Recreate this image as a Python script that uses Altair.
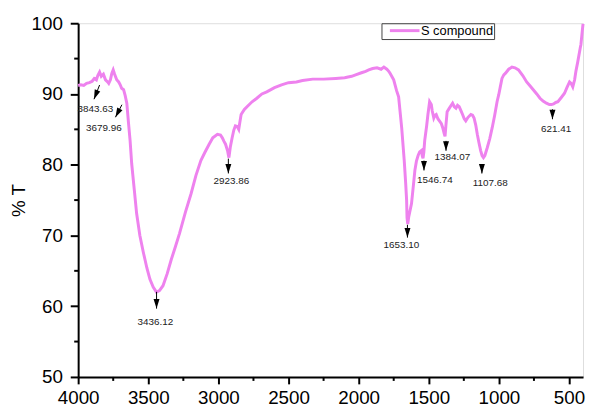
import altair as alt
import pandas as pd

# ---- spectrum ----
wavenumber = [4000, 3980, 3960, 3940, 3920, 3900, 3885, 3870, 3860, 3847, 3835, 3820, 3805, 3790, 3782,
              3770, 3760, 3750, 3740, 3725, 3711, 3700, 3690, 3676, 3665, 3653, 3641, 3630, 3618, 3600,
              3583, 3560, 3535, 3510, 3488, 3465, 3442, 3420, 3395, 3365, 3336, 3305, 3277, 3235, 3195,
              3160, 3125, 3095, 3066, 3040, 3007, 2985, 2972, 2960, 2949, 2935, 2925, 2915, 2902, 2890,
              2879, 2866, 2855, 2847, 2838, 2815, 2796, 2760, 2726, 2690, 2655, 2600, 2550, 2500, 2444,
              2400, 2327, 2250, 2163, 2100, 2050, 2022, 1980, 1950, 1928, 1900, 1869, 1840, 1820, 1799,
              1785, 1775, 1750, 1730, 1715, 1693, 1675, 1665, 1658, 1655, 1650, 1643, 1623, 1610, 1599,
              1588, 1576, 1565, 1552, 1546, 1541, 1535, 1529, 1515, 1506, 1494, 1482, 1475, 1464, 1455,
              1447, 1435, 1424, 1410, 1400, 1390, 1384, 1378, 1369, 1353, 1340, 1330, 1318, 1306, 1295,
              1283, 1270, 1259, 1247, 1236, 1220, 1200, 1188, 1177, 1165, 1154, 1142, 1130, 1120, 1110,
              1100, 1083, 1065, 1048, 1030, 1013, 1001, 990, 978, 965, 954, 930, 907, 885, 860,
              830, 802, 780, 755, 730, 707, 685, 661, 640, 626, 610, 595, 579, 555, 532,
              515, 496, 485, 473, 460, 450, 438, 420, 415, 405, 400]
transmittance = [91.2, 91.3, 91.2, 91.5, 91.6, 91.8, 92.2, 92.0, 92.6, 93.1, 92.5, 92.8, 92.0, 91.7, 91.5,
                 92.0, 92.9, 93.4, 92.8, 92.0, 91.7, 91.3, 90.8, 90.6, 89.8, 88.7, 85.9, 83.5, 80.1, 76.5,
                 73.1, 70.0, 67.6, 65.4, 63.8, 62.7, 62.0, 62.2, 62.9, 64.6, 66.6, 68.5, 70.3, 73.3, 75.9,
                 78.5, 80.6, 81.8, 82.9, 83.8, 84.3, 84.2, 83.8, 83.3, 82.9, 82.0, 81.0, 82.5, 83.8, 84.9,
                 85.5, 85.4, 85.0, 86.0, 87.1, 87.8, 88.2, 88.9, 89.4, 90.0, 90.3, 90.9, 91.3, 91.6, 91.7,
                 91.9, 92.1, 92.1, 92.2, 92.3, 92.5, 92.7, 93.0, 93.2, 93.4, 93.6, 93.7, 93.5, 93.8, 93.5,
                 93.2, 92.9, 92.0, 90.5, 89.6, 85.2, 80.6, 77.5, 75.0, 72.5, 71.6, 72.6, 74.5, 77.0, 79.2,
                 80.5, 81.3, 81.8, 82.0, 81.2, 80.9, 81.8, 83.4, 85.5, 87.1, 88.9, 88.5, 87.6, 86.6, 87.0,
                 87.1, 86.5, 86.2, 85.8, 85.2, 84.4, 84.0, 85.5, 87.5, 88.0, 88.4, 88.7, 88.2, 88.0, 88.4,
                 88.2, 87.6, 87.1, 86.5, 86.2, 86.7, 87.1, 87.0, 86.6, 85.6, 84.3, 83.1, 82.0, 81.3, 81.0,
                 81.3, 82.4, 83.7, 85.2, 87.0, 88.9, 89.9, 91.0, 92.2, 92.7, 92.9, 93.5, 93.8, 93.7, 93.4,
                 92.6, 91.7, 91.2, 90.6, 90.0, 89.4, 89.0, 88.7, 88.5, 88.5, 88.6, 88.8, 88.9, 89.5, 90.1,
                 90.9, 91.7, 91.5, 91.0, 92.0, 93.3, 94.5, 96.5, 97.0, 99.0, 99.9]
series_name = "S compound"

# ---- peak annotations ----
peak_labels = ["3843.63", "3679.96", "3436.12", "2923.86", "1653.10", "1546.74", "1384.07", "1107.68", "621.41"]
arrow_from_x = [3847, 3688, 3441, 2929, 1652, 1534, 1377, 1121, 618]
arrow_from_y = [91.27, 88.48, 62.03, 80.86, 71.51, 80.58, 83.37, 79.88, 87.83]
arrow_to_x = [3887, 3734, 3441, 2929, 1652, 1534, 1377, 1121, 618]
arrow_to_y = [89.26, 86.71, 59.66, 78.77, 69.70, 79.19, 81.97, 78.76, 86.43]
arrow_angle = [21.6, 27.5, 0, 0, 0, 0, 0, 0, 0]
label_x = [3877, 3817, 3450, 2908, 1696, 1457, 1332, 1062, 592]
label_y = [87.93, 85.22, 57.71, 77.65, 68.59, 77.79, 81.14, 77.37, 85.04]

# ---- ticks ----
x_major = [4000, 3500, 3000, 2500, 2000, 1500, 1000, 500]
x_minor = [3750, 3250, 2750, 2250, 1750, 1250, 750]
y_major = [50, 60, 70, 80, 90, 100]
y_minor = [55, 65, 75, 85, 95]

FONT = "Liberation Sans"
LINE_COLOR = "#ee82ee"

spec_df = pd.DataFrame({"wn": wavenumber, "T": transmittance, "series": series_name})
ann_df = pd.DataFrame({"label": peak_labels, "fx": arrow_from_x, "fy": arrow_from_y,
                       "tx": arrow_to_x, "ty": arrow_to_y, "ang": arrow_angle,
                       "lx": label_x, "ly": label_y})
xminor_df = pd.DataFrame({"m": x_minor, "base": [50] * len(x_minor)})
yminor_df = pd.DataFrame({"m": y_minor, "base": [4000] * len(y_minor)})

x_scale = alt.Scale(domain=[400, 4000], reverse=True, nice=False, zero=False)
y_scale = alt.Scale(domain=[50, 100], nice=False, zero=False)

x_axis = alt.Axis(values=x_major, format="d", title=None, grid=False, tickSize=7, tickWidth=2,
                  domainWidth=2, domainColor="black", tickColor="black", labelFontSize=19,
                  labelFont=FONT, labelColor="black", labelPadding=5, labelFlush=False,
                  labelOverlap=False)
y_axis = alt.Axis(values=y_major, format="d", title="% T", grid=False, tickSize=8, tickWidth=2,
                  domainWidth=2, domainColor="black", tickColor="black", labelFontSize=19,
                  labelFont=FONT, labelColor="black", labelPadding=8, titleFontSize=19,
                  titleFont=FONT, titleFontWeight="normal", titleColor="black", titlePadding=3)

line = alt.Chart(spec_df).mark_line(strokeWidth=3).encode(
    x=alt.X("wn:Q", scale=x_scale, axis=x_axis),
    y=alt.Y("T:Q", scale=y_scale, axis=y_axis),
    color=alt.Color("series:N", scale=alt.Scale(range=[LINE_COLOR]),
                    legend=alt.Legend(title=None, orient="none", legendX=307, legendY=0,
                                      symbolType="M-3,0 L3,0", symbolSize=100, symbolStrokeWidth=3,
                                      symbolOffset=16,
                                      labelFontSize=13, labelFont=FONT, labelColor="black",
                                      strokeColor="#444", padding=1, labelOffset=10)),
    order=alt.Order("wn:Q", sort="descending"),
)

arrows = alt.Chart(ann_df).mark_rule(color="black", strokeWidth=1).encode(
    x=alt.X("fx:Q", scale=x_scale, axis=x_axis),
    y=alt.Y("fy:Q", scale=y_scale, axis=y_axis),
    x2="tx:Q",
    y2="ty:Q",
)

heads = alt.Chart(ann_df).mark_point(shape="M-1,-3.2 L1,-3.2 L0,0 Z", filled=True, color="black",
                                     size=36, opacity=1).encode(
    x=alt.X("tx:Q", scale=x_scale, axis=x_axis),
    y=alt.Y("ty:Q", scale=y_scale, axis=y_axis),
    angle=alt.Angle("ang:Q", scale=None),
)

labels = alt.Chart(ann_df).mark_text(fontSize=10, font=FONT, color="#222", baseline="middle",
                                     align="center").encode(
    x=alt.X("lx:Q", scale=x_scale, axis=x_axis),
    y=alt.Y("ly:Q", scale=y_scale, axis=y_axis),
    text="label:N",
)

xminor = alt.Chart(xminor_df).mark_rule(color="black", strokeWidth=2, y2Offset=4).encode(
    x=alt.X("m:Q", scale=x_scale, axis=x_axis),
    y=alt.Y("base:Q", scale=y_scale, axis=y_axis),
    y2="base:Q",
)

yminor = alt.Chart(yminor_df).mark_rule(color="black", strokeWidth=2, x2Offset=-4).encode(
    x=alt.X("base:Q", scale=x_scale, axis=x_axis),
    x2="base:Q",
    y=alt.Y("m:Q", scale=y_scale, axis=y_axis),
)

chart = alt.layer(line, arrows, heads, labels, xminor, yminor).properties(
    width=511, height=358,
    autosize=alt.AutoSizeParams(type="none"),
    padding={"left": 71, "top": 13, "right": 3, "bottom": 28},
).configure_view(stroke="black", strokeWidth=2).configure(background="white")

chart.save("out.html", embed_options={"renderer": "svg", "actions": False})
